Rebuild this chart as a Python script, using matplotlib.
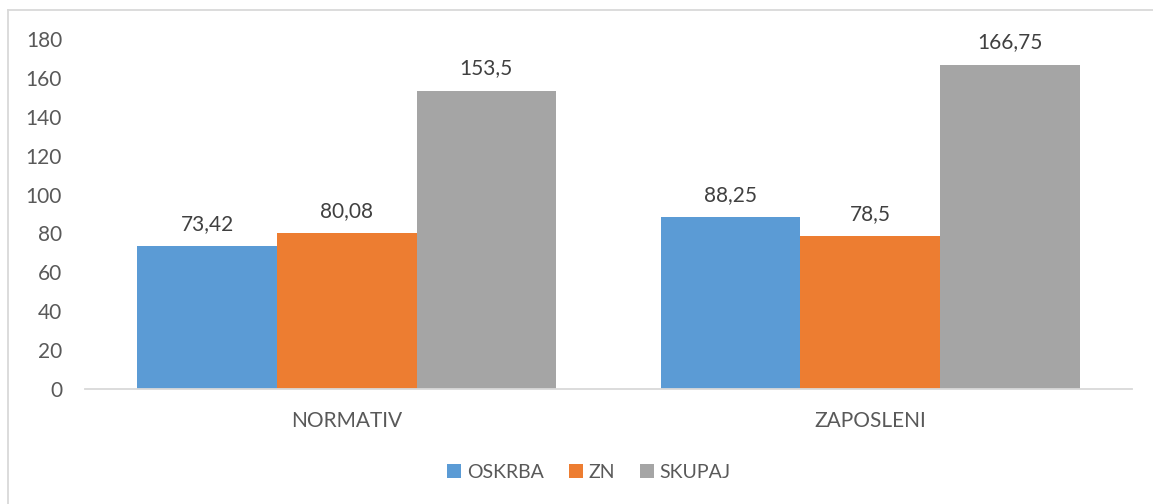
import matplotlib
matplotlib.use("Agg")
import matplotlib.pyplot as plt
import numpy as np
from matplotlib.lines import Line2D
from matplotlib.patches import Patch

categories = ["NORMATIV", "ZAPOSLENI"]
series_names = ["OSKRBA", "ZN", "SKUPAJ"]
oskrba = [73.42, 88.25]
zn = [80.08, 78.5]
skupaj = [153.5, 166.75]
value_labels = [["73,42", "88,25"], ["80,08", "78,5"], ["153,5", "166,75"]]
yticks = [0, 20, 40, 60, 80, 100, 120, 140, 160, 180]

colors = ["#5b9bd5", "#ed7d31", "#a5a5a5"]
plt.rcParams['font.family'] = ['Lato', 'DejaVu Sans']
FS = 15

fig = plt.figure(figsize=(11.53, 5.04), dpi=100)
ax = fig.add_axes([85/1153, 1-389/504, (1132-85)/1153, (389-39)/504])

x = np.arange(len(categories))
w = 0.8/3
for i, (vals, name, c) in enumerate(zip([oskrba, zn, skupaj], series_names, colors)):
    bars = ax.bar(x + (i-1)*w, vals, width=w, color=c, label=name, zorder=2)
    for b, lab in zip(bars, value_labels[i]):
        ax.annotate(lab, (b.get_x()+b.get_width()/2, b.get_height()),
                    xytext=(0, 9), textcoords="offset points",
                    ha="center", va="bottom", fontsize=FS, color="#404040")

ax.set_xlim(-0.5, 1.5)
ax.set_ylim(0, 180)
ax.set_yticks(yticks)
ax.set_xticks(x)
ax.set_xticklabels(categories)
for s in ["top", "right", "left"]:
    ax.spines[s].set_visible(False)
ax.spines["bottom"].set_color("#d9d9d9")
ax.spines["bottom"].set_linewidth(1.3)
ax.tick_params(axis="both", length=0, labelsize=FS, colors="#595959")
ax.tick_params(axis="y", pad=16.5)
ax.tick_params(axis="x", pad=16)

handles = [Patch(facecolor=c, edgecolor="none") for c in colors]
leg = fig.legend(handles, series_names, loc="center", bbox_to_anchor=(589/1153, 1-472/504),
                 ncol=3, frameon=False, fontsize=14, handlelength=0.7, handleheight=0.7,
                 handletextpad=0.3, columnspacing=1.3, borderpad=0, borderaxespad=0)
for t in leg.get_texts():
    t.set_color("#595959")

# chart border
fig.add_artist(Line2D([8/1153, 8/1153], [0, 1-10/504], transform=fig.transFigure, color="#d9d9d9", lw=1.3))
fig.add_artist(Line2D([8/1153, 1], [1-10/504, 1-10/504], transform=fig.transFigure, color="#d9d9d9", lw=1.3))

fig.savefig("out.png", dpi=100)
